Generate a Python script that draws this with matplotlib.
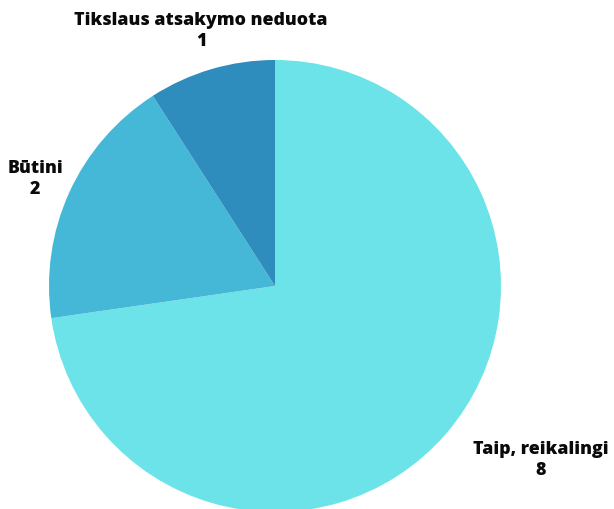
import matplotlib.pyplot as plt

labels = ["Taip, reikalingi", "Būtini", "Tikslaus atsakymo neduota"]
values = [8, 2, 1]
colors = ["#6BE3E8", "#45B8D8", "#2E8DBC"]

# label anchor points in pixel coords (x, y from top)
label_pos = [(541, 460), (35, 179), (201, 31)]

W, H = 614, 510
fig = plt.figure(figsize=(W / 100, H / 100), dpi=100)
ax = fig.add_axes([0, 0, 1, 1])

ax.pie(values, colors=colors, startangle=90, counterclock=False,
       center=(275, H - 287), radius=226, frame=True,
       wedgeprops=dict(linewidth=0))
ax.set_xlim(0, W)
ax.set_ylim(0, H)
ax.set_aspect("equal")
ax.axis("off")

for lab, val, (x, y) in zip(labels, values, label_pos):
    ax.text(x, H - y, f"{lab}\n{val}", ha="center", va="center",
            fontsize=12.8, fontweight=800, family="Open Sans",
            color="#0a0a0a", linespacing=1.35)

fig.savefig("out.png", dpi=100)
